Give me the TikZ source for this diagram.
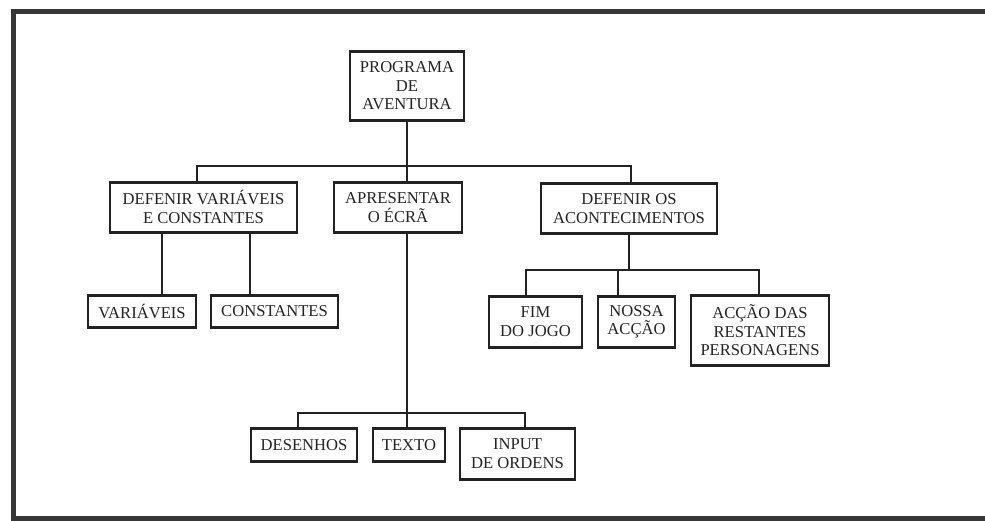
\documentclass[tikz,border=0pt]{standalone}
\usepackage{fontspec}
\setmainfont{Liberation Serif}
\usetikzlibrary{positioning, calc}
\definecolor{inkgray}{RGB}{35, 35, 35}
\definecolor{framegray}{RGB}{55, 55, 55}
\tikzset{
  blockbox/.style={draw=inkgray, line width=2.6pt, align=center, anchor=north, inner sep=0pt, text=inkgray, font=\fontsize{16.6}{18.8}\selectfont},
  linkline/.style={draw=inkgray, line width=1.7pt},
  frameline/.style={draw=framegray, line width=5pt}
}

\begin{document}
\begin{tikzpicture}[x=1pt, y=-1pt]
  \useasboundingbox (0,0) rectangle (985,521);
  % Page frame
  \draw[frameline] (990,12) -- (13,12) -- (13,518) -- (990,518);

  % Top level
  \node[blockbox, minimum width=114pt, minimum height=69pt] (root) at (407,50) {PROGRAMA\\DE\\AVENTURA};

  % Second level
  \node[blockbox, minimum width=187pt, minimum height=50pt] (defvar) at (203.5,181) {DEFENIR VARIÁVEIS\\E CONSTANTES};
  \node[blockbox, minimum width=128pt, minimum height=50pt] (apres) at (398,181) {APRESENTAR\\O ÉCRÃ};
  \node[blockbox, minimum width=176pt, minimum height=50pt] (defev) at (629,182) {DEFENIR OS\\ACONTECIMENTOS};

  % Variables and constants
  \node[blockbox, minimum width=108pt, minimum height=32pt] (var) at (142,294) {VARIÁVEIS};
  \node[blockbox, minimum width=127pt, minimum height=32pt] (const) at (274.5,294) {CONSTANTES};

  % Events
  \node[blockbox, minimum width=93pt, minimum height=51pt] (fim) at (535.5,295) {FIM\\DO JOGO};
  \node[blockbox, minimum width=77pt, minimum height=51pt] (nossa) at (636.5,295) {NOSSA\\ACÇÃO};
  \node[blockbox, minimum width=138pt, minimum height=70pt] (accao) at (760,294) {ACÇÃO DAS\\RESTANTES\\PERSONAGENS};

  % Screen
  \node[blockbox, minimum width=106pt, minimum height=33pt] (des) at (304,427) {DESENHOS};
  \node[blockbox, minimum width=72pt, minimum height=33pt] (texto) at (409,427) {TEXTO};
  \node[blockbox, minimum width=115pt, minimum height=51pt] (input) at (517.5,427) {INPUT\\DE ORDENS};

  % Connectors, top bus
  \coordinate (busL) at (197,166);
  \coordinate (busR) at (631,166);
  \draw[linkline] (root.south) -- (root.south |- apres.north);
  \draw[linkline] (defvar.north -| busL) -- (busL) -- (busR) -- (defev.north -| busR);

  % Variables and constants
  \draw[linkline] (defvar.south -| 162,0) -- (var.north -| 162,0);
  \draw[linkline] (defvar.south -| 250,0) -- (const.north -| 250,0);

  % Events bus
  \coordinate (evL) at (526,270);
  \coordinate (evR) at (759,270);
  \draw[linkline] (defev.south) -- (defev.south |- evL);
  \draw[linkline] (fim.north -| evL) -- (evL) -- (evR) -- (accao.north -| evR);
  \draw[linkline] (evL -| 618,0) -- (nossa.north -| 618,0);

  % Screen bus
  \coordinate (scrL) at (298,413);
  \coordinate (scrR) at (525,413);
  \draw[linkline] (apres.south -| root.south) -- (texto.north -| root.south);
  \draw[linkline] (des.north -| scrL) -- (scrL) -- (scrR) -- (input.north -| scrR);
\end{tikzpicture}
\end{document}
